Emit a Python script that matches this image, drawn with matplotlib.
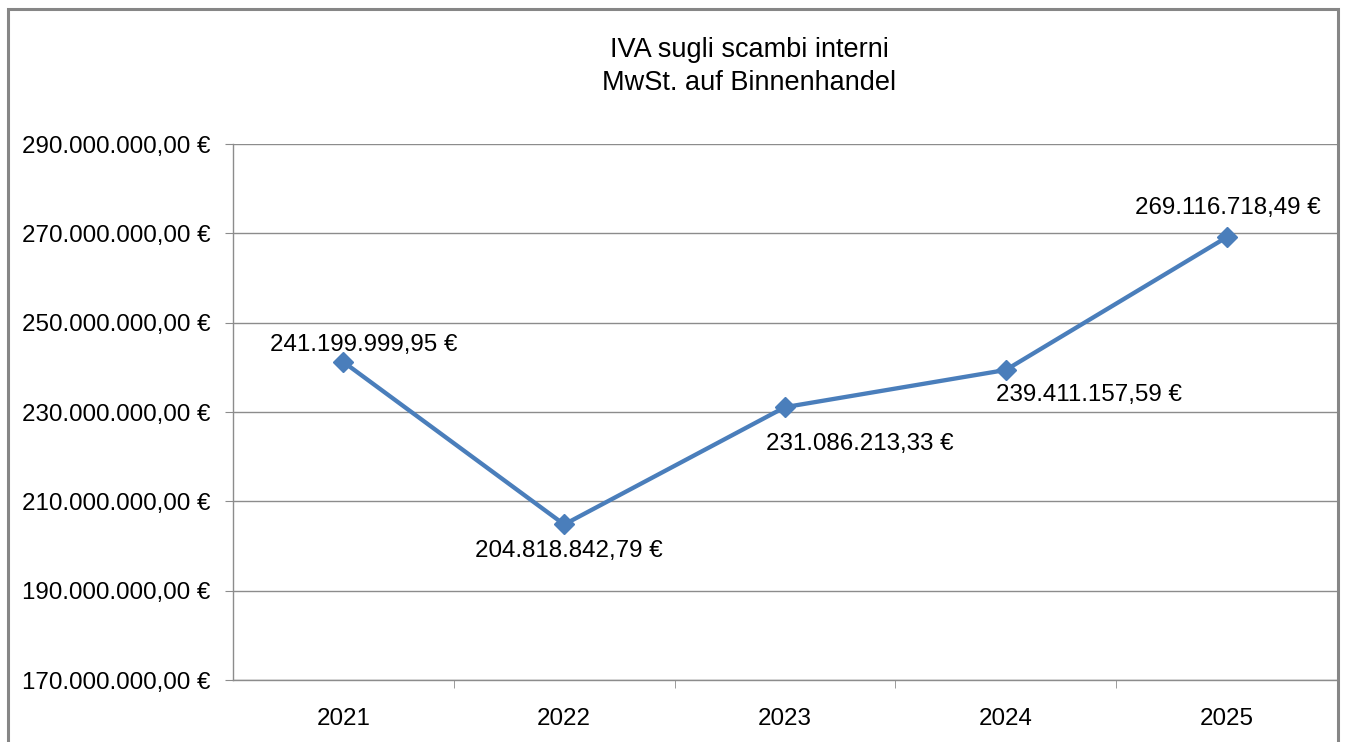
import matplotlib.pyplot as plt
from matplotlib.patches import Rectangle

# Data
years = ["2021", "2022", "2023", "2024", "2025"]
values = [241199999.95, 204818842.79, 231086213.33, 239411157.59, 269116718.49]
y_ticks = [170e6, 190e6, 210e6, 230e6, 250e6, 270e6, 290e6]

# label offsets in pixels (dx, dy) relative to the marker
label_offsets = [(20, 17), (5, -27), (75, -37), (83, -25), (1, 29)]

plt.rcParams['font.family'] = ['Liberation Sans', 'DejaVu Sans']


def euro(v):
    s = f"{v:,.2f}"
    s = s.replace(",", "X").replace(".", ",").replace("X", ".")
    return s + " €"


fig = plt.figure(figsize=(13.45, 7.42), dpi=100)

# outer chart border (bottom edge is cut off in the original)
fig.patches.append(Rectangle((7.5 / 1345, -0.05), 1330 / 1345, 1.05 - 9 / 742,
                             transform=fig.transFigure, fill=False,
                             edgecolor="#868686", linewidth=2.2, zorder=0))

ax = fig.add_axes([233 / 1345, 1 - 680 / 742, 1104 / 1345, 536 / 742])

x = list(range(len(years)))
ax.plot(x, values, color="#4a7ebb", linewidth=3.1, marker="D",
        markersize=10, zorder=3, clip_on=False)

for i, v in enumerate(values):
    dx, dy = label_offsets[i]
    ax.annotate(euro(v), (i, v), xytext=(dx, dy), textcoords="offset pixels",
                ha="center", va="center", fontsize=17.4)

ax.set_xlim(-0.5, len(years) - 0.5)
ax.set_ylim(170e6, 290e6)
ax.set_yticks(y_ticks)
ax.set_yticklabels([euro(t) for t in y_ticks], fontsize=17.4)
ax.yaxis.grid(True, color="#8c8c8c", linewidth=1)
ax.set_axisbelow(True)

ax.set_xticks(x)
ax.set_xticklabels(years, fontsize=17.4)
ax.set_xticks([i + 0.5 for i in range(len(years) - 1)], minor=True)
ax.tick_params(axis="x", which="major", length=0, pad=20)
ax.tick_params(axis="x", which="minor", length=6, color="#8c8c8c", direction="out")
ax.tick_params(axis="y", length=6, color="#8c8c8c", pad=10)

for side in ["top", "right"]:
    ax.spines[side].set_visible(False)
for side in ["left", "bottom"]:
    ax.spines[side].set_color("#8c8c8c")
    ax.spines[side].set_linewidth(1)

fig.text(749 / 1345, 1 - 50 / 742, "IVA sugli scambi interni", ha="center",
         va="center", fontsize=19.5)
fig.text(749 / 1345, 1 - 83 / 742, "MwSt. auf Binnenhandel", ha="center",
         va="center", fontsize=19.5)

fig.savefig("out.png", dpi=100)
